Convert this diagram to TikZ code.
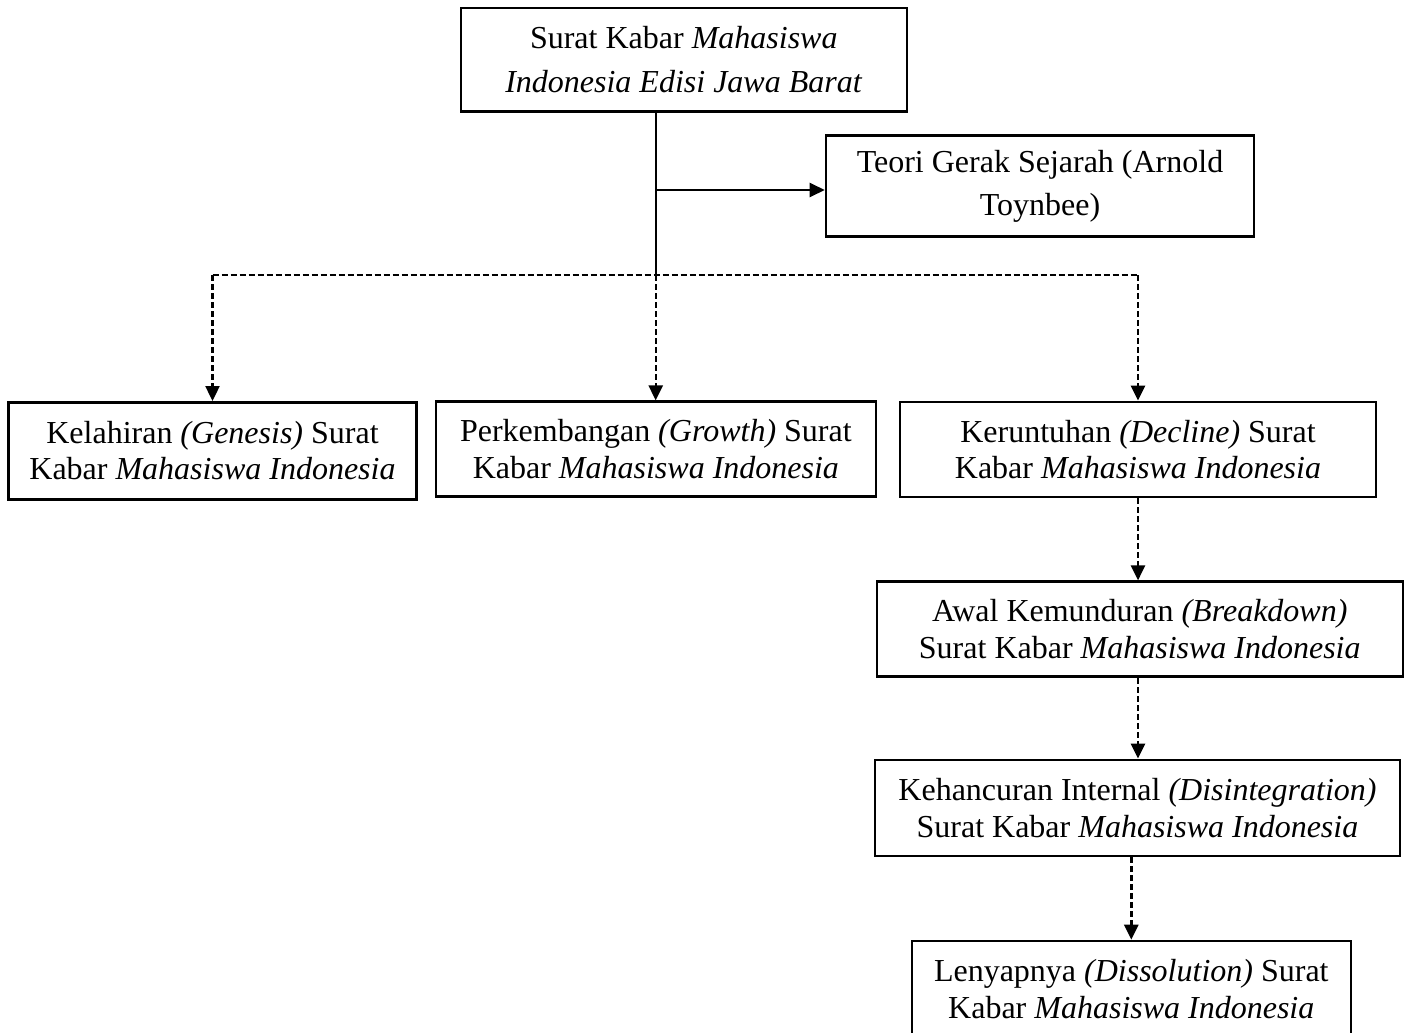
\documentclass[tikz,border=0pt]{standalone}
\usepackage{fontspec}
\setmainfont{Liberation Serif}
\usetikzlibrary{arrows.meta}
\begin{document}
\begin{tikzpicture}[x=1pt,y=-1pt,
  box/.style={draw,line width=2.6pt,inner sep=0pt,align=center,font=\fontsize{32}{36.5}\selectfont},
  wide/.style={font=\fontsize{32}{43.5}\selectfont},
  solidcon/.style={line width=2.4pt,-{Triangle[length=15pt,width=14pt]}},
  dashcon/.style={line width=2.4pt,dash pattern=on 6pt off 3pt,-{Triangle[length=15pt,width=14pt]}},
  dashline/.style={line width=2.4pt,dash pattern=on 6pt off 3pt}]
\useasboundingbox[fill=white] (0,0) rectangle (1406,1033);
\node[box,wide,minimum width=446pt,minimum height=103pt] (top) at (683.8,59.7)
  {Surat Kabar \textit{Mahasiswa}\\\textit{Indonesia Edisi Jawa Barat}};
\node[box,wide,minimum width=428pt,minimum height=101pt] (teori) at (1040,186.2)
  {Teori Gerak Sejarah (Arnold\\Toynbee)};
\node[box,minimum width=408pt,minimum height=97pt] (kel) at (212.5,450.8)
  {Kelahiran \textit{(Genesis)} Surat\\Kabar \textit{Mahasiswa Indonesia}};
\node[box,minimum width=440pt,minimum height=95pt] (perk) at (655.9,449.2)
  {Perkembangan \textit{(Growth)} Surat\\Kabar \textit{Mahasiswa Indonesia}};
\node[box,minimum width=476pt,minimum height=95pt] (ker) at (1138,449.4)
  {Keruntuhan \textit{(Decline)} Surat\\Kabar \textit{Mahasiswa Indonesia}};
\node[box,minimum width=526pt,minimum height=95pt] (awal) at (1139.8,629.2)
  {Awal Kemunduran \textit{(Breakdown)}\\Surat Kabar \textit{Mahasiswa Indonesia}};
\node[box,minimum width=525pt,minimum height=96pt] (keh) at (1137.5,807.9)
  {Kehancuran Internal \textit{(Disintegration)}\\Surat Kabar \textit{Mahasiswa Indonesia}};
\node[box,minimum width=439pt,minimum height=96pt] (len) at (1131.3,989)
  {Lenyapnya \textit{(Dissolution)} Surat\\Kabar \textit{Mahasiswa Indonesia}};
\coordinate (j) at (655.7,275);
\coordinate (b) at (655.7,190);
\draw[line width=2.4pt] (top.south -| j) -- (j);
\draw[solidcon] (b) -- (b -| teori.west);
\draw[dashline] (kel.north |- j) -- (ker.north |- j);
\draw[dashcon] (kel.north |- j) -- (kel.north);
\draw[dashcon] (j) -- (j |- perk.north);
\draw[dashcon] (ker.north |- j) -- (ker.north);
\draw[dashcon] (ker.south) -- (ker.south |- awal.north);
\draw[dashcon] (ker.south |- awal.south) -- (ker.south |- keh.north);
\draw[dashcon] (len.north |- keh.south) -- (len.north);
\end{tikzpicture}
\end{document}
